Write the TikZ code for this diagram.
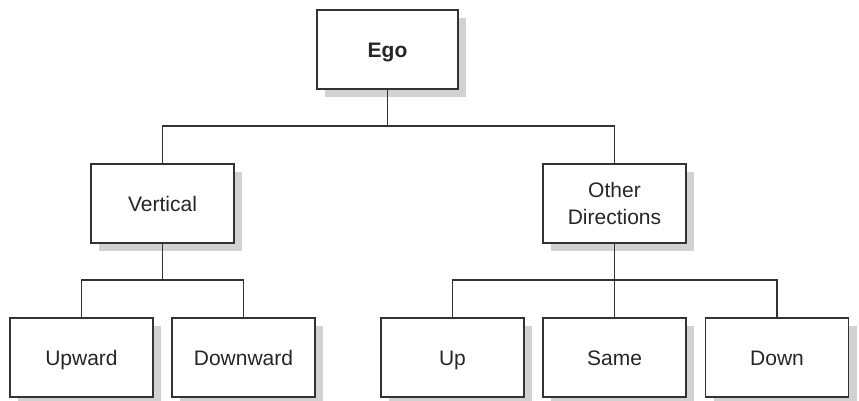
\documentclass[tikz,border=0pt]{standalone}
\usepackage{fontspec}
\setmainfont{Liberation Sans}
\usetikzlibrary{shadows}
\definecolor{edge}{HTML}{333333}
\definecolor{shade}{HTML}{D2D2D4}
\tikzset{
  box/.style={draw=edge, line width=1.3pt, fill=white,
    minimum width=143pt, minimum height=79pt, inner sep=0pt,
    align=center, font=\fontsize{21}{27.3}\selectfont, text=black!85,
    drop shadow={shadow xshift=8pt, shadow yshift=-8pt, fill=shade, opacity=1}},
  oneline/.style={text height=15pt, text depth=-4pt},
  twoline/.style={text height=42.3pt, text depth=0pt},
  link/.style={draw=edge, line width=1.3pt}
}
\begin{document}
\begin{tikzpicture}[x=1pt, y=-1pt]
\useasboundingbox (0,0) rectangle (859,400);
% top level
\node[box, oneline, minimum width=141pt, font=\fontsize{21}{27.3}\selectfont\bfseries] (ego) at (387.5,49.5) {Ego};
% second level
\node[box, oneline] (vert) at (162.5,203.5) {Vertical};
\node[box, twoline] (other) at (614.5,203.5) {Other\\Directions};
% third level
\node[box, oneline] (upw) at (81.5,357.5) {Upward};
\node[box, oneline] (down) at (243.5,357.5) {Downward};
\node[box, oneline] (up) at (452.5,357.5) {Up};
\node[box, oneline] (same) at (614.5,357.5) {Same};
\node[box, oneline] (dn) at (777,357.5) {Down};
% connectors
\coordinate (j1) at (387.5,126);
\coordinate (j2) at (162.5,280);
\coordinate (j3) at (614.5,280);
\draw[link] (ego.south) -- (j1);
\draw[link] (vert.north) |- (j1) -| (other.north);
\draw[link] (vert.south) -- (j2);
\draw[link] (upw.north) |- (j2) -| (down.north);
\draw[link] (other.south) -- (j3);
\draw[link] (up.north) |- (j3) -| (dn.north);
\draw[link] (j3) -- (same.north);
\end{tikzpicture}
\end{document}
